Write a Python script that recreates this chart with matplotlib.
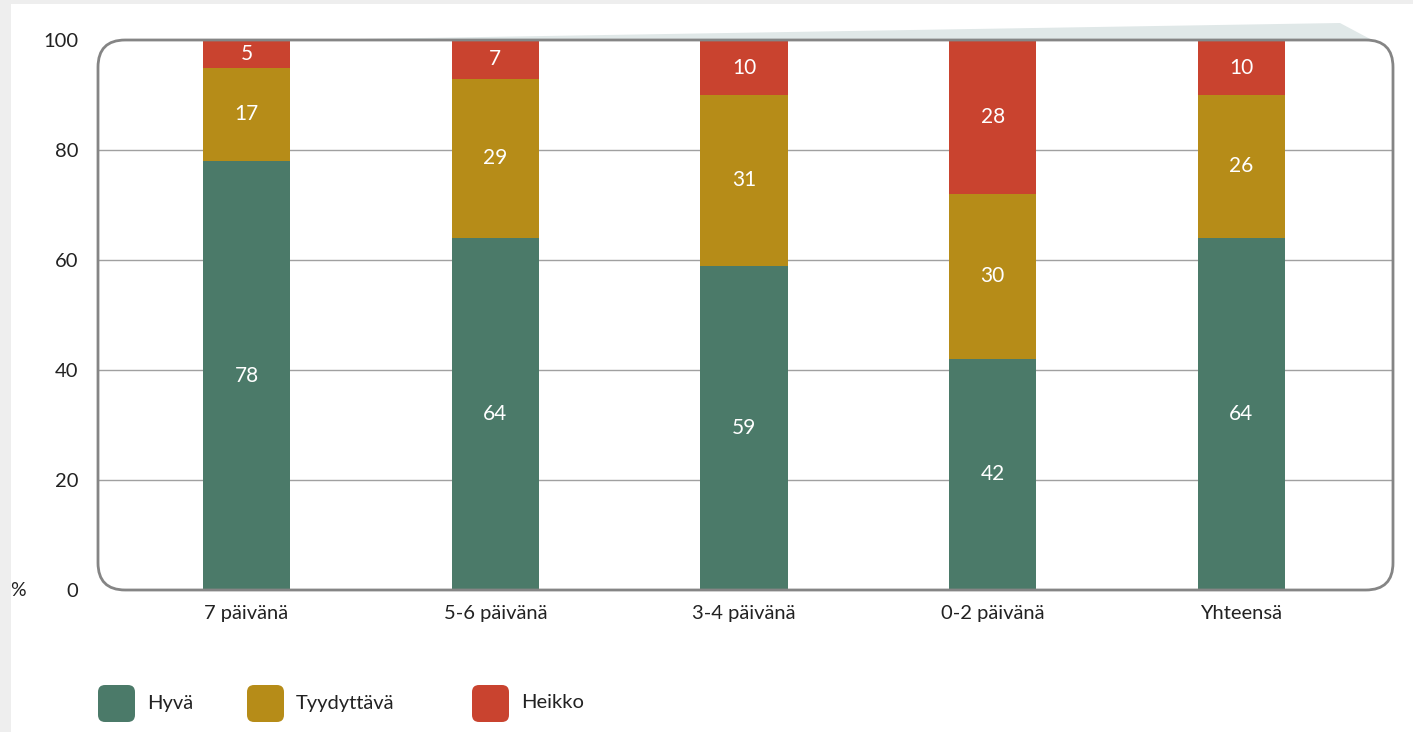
import numpy as np
from matplotlib import pyplot as plt
from matplotlib.patches import FancyBboxPatch, Polygon, Rectangle

# Data:

categories = ['7 päivänä', '5-6 päivänä', '3-4 päivänä', '0-2 päivänä', 'Yhteensä']
hyva = np.array([78, 64, 59, 42, 64])
tyydyttava = np.array([17, 29, 31, 30, 26])
heikko = np.array([5, 7, 10, 28, 10])

series_names = ['Hyvä', 'Tyydyttävä', 'Heikko']
series_colors = ['#4b7a69', '#b68c18', '#c9432f']

plt.rcParams['font.family'] = ['Lato', 'DejaVu Sans']

W, H = 1413, 732
fig = plt.figure(figsize=(W / 100, H / 100), dpi=100)
fig.patch.set_facecolor('#eeeeee')


def px(x, y):
    # pixel position (from top left) -> figure fraction
    return x / W, 1 - y / H


# white panel + faint band above the plot box
fig.patches.append(Rectangle(px(11, 732), (W - 11) / W, (732 - 4) / H, transform=fig.transFigure,
                             facecolor='white', edgecolor='none', zorder=-10))
fig.patches.append(Polygon([px(300, 40), px(1340, 23), px(1372, 40)], closed=True, transform=fig.transFigure,
                           facecolor='#e0e8e8', edgecolor='none', zorder=-9))

box_l, box_r, box_t, box_b = 98, 1393, 40, 590
ax = fig.add_axes([box_l / W, 1 - box_b / H, (box_r - box_l) / W, (box_b - box_t) / H])
ax.set_facecolor('none')

x = np.arange(len(categories))
width = 0.35
stacks = [hyva, tyydyttava, heikko]
bottom = np.zeros(len(categories))
for vals, name, col in zip(stacks, series_names, series_colors):
    bars = ax.bar(x, vals, width, bottom=bottom, color=col, label=name, zorder=3)
    ax.bar_label(bars, labels=[str(v) for v in vals], label_type='center', color='white', fontsize=15)
    bottom = bottom + vals

ax.set_ylim(0, 100)
ax.set_xlim(-(246.5 - box_l) / 248.75, 4 + (box_r - 1241.5) / 248.75)
ax.set_yticks([0, 20, 40, 60, 80, 100])
ax.set_xticks(x)
ax.set_xticklabels(categories)
ax.tick_params(axis='both', length=0, labelsize=14.5, colors='#222222')
ax.tick_params(axis='y', pad=14)
ax.tick_params(axis='x', pad=11)
for s in ax.spines.values():
    s.set_visible(False)
ax.yaxis.grid(True, color='#a0a0a0', linewidth=1)
ax.set_axisbelow(True)
# 0 and 100 are covered by the rounded border
gl = ax.yaxis.get_gridlines()
gl[0].set_visible(False)
gl[-1].set_visible(False)

# rounded border of the plot area
aspect = (box_r - box_l) / (box_b - box_t)
ax.add_patch(FancyBboxPatch((0, 0), 1, 1, boxstyle='round,pad=0,rounding_size=0.021',
                            mutation_aspect=aspect, transform=ax.transAxes, facecolor='none',
                            edgecolor='#858585', linewidth=2, zorder=5, clip_on=False))

fig.text(*px(18, 590), '%', fontsize=14, color='#222222', ha='center', va='center')

# legend
legend_x = [98, 247, 472]
for lx, name, col in zip(legend_x, series_names, series_colors):
    fx, fy = px(lx, 722)
    fig.patches.append(FancyBboxPatch((fx, fy), 37 / W, 37 / H, boxstyle='round,pad=0,rounding_size=0.005',
                                      mutation_aspect=W / H, transform=fig.transFigure,
                                      facecolor=col, edgecolor='none', zorder=1))
    fig.text(*px(lx + 49, 703), name, fontsize=14.5, color='#222222', ha='left', va='center')

plt.savefig('out.png', dpi=100, facecolor=fig.get_facecolor())
